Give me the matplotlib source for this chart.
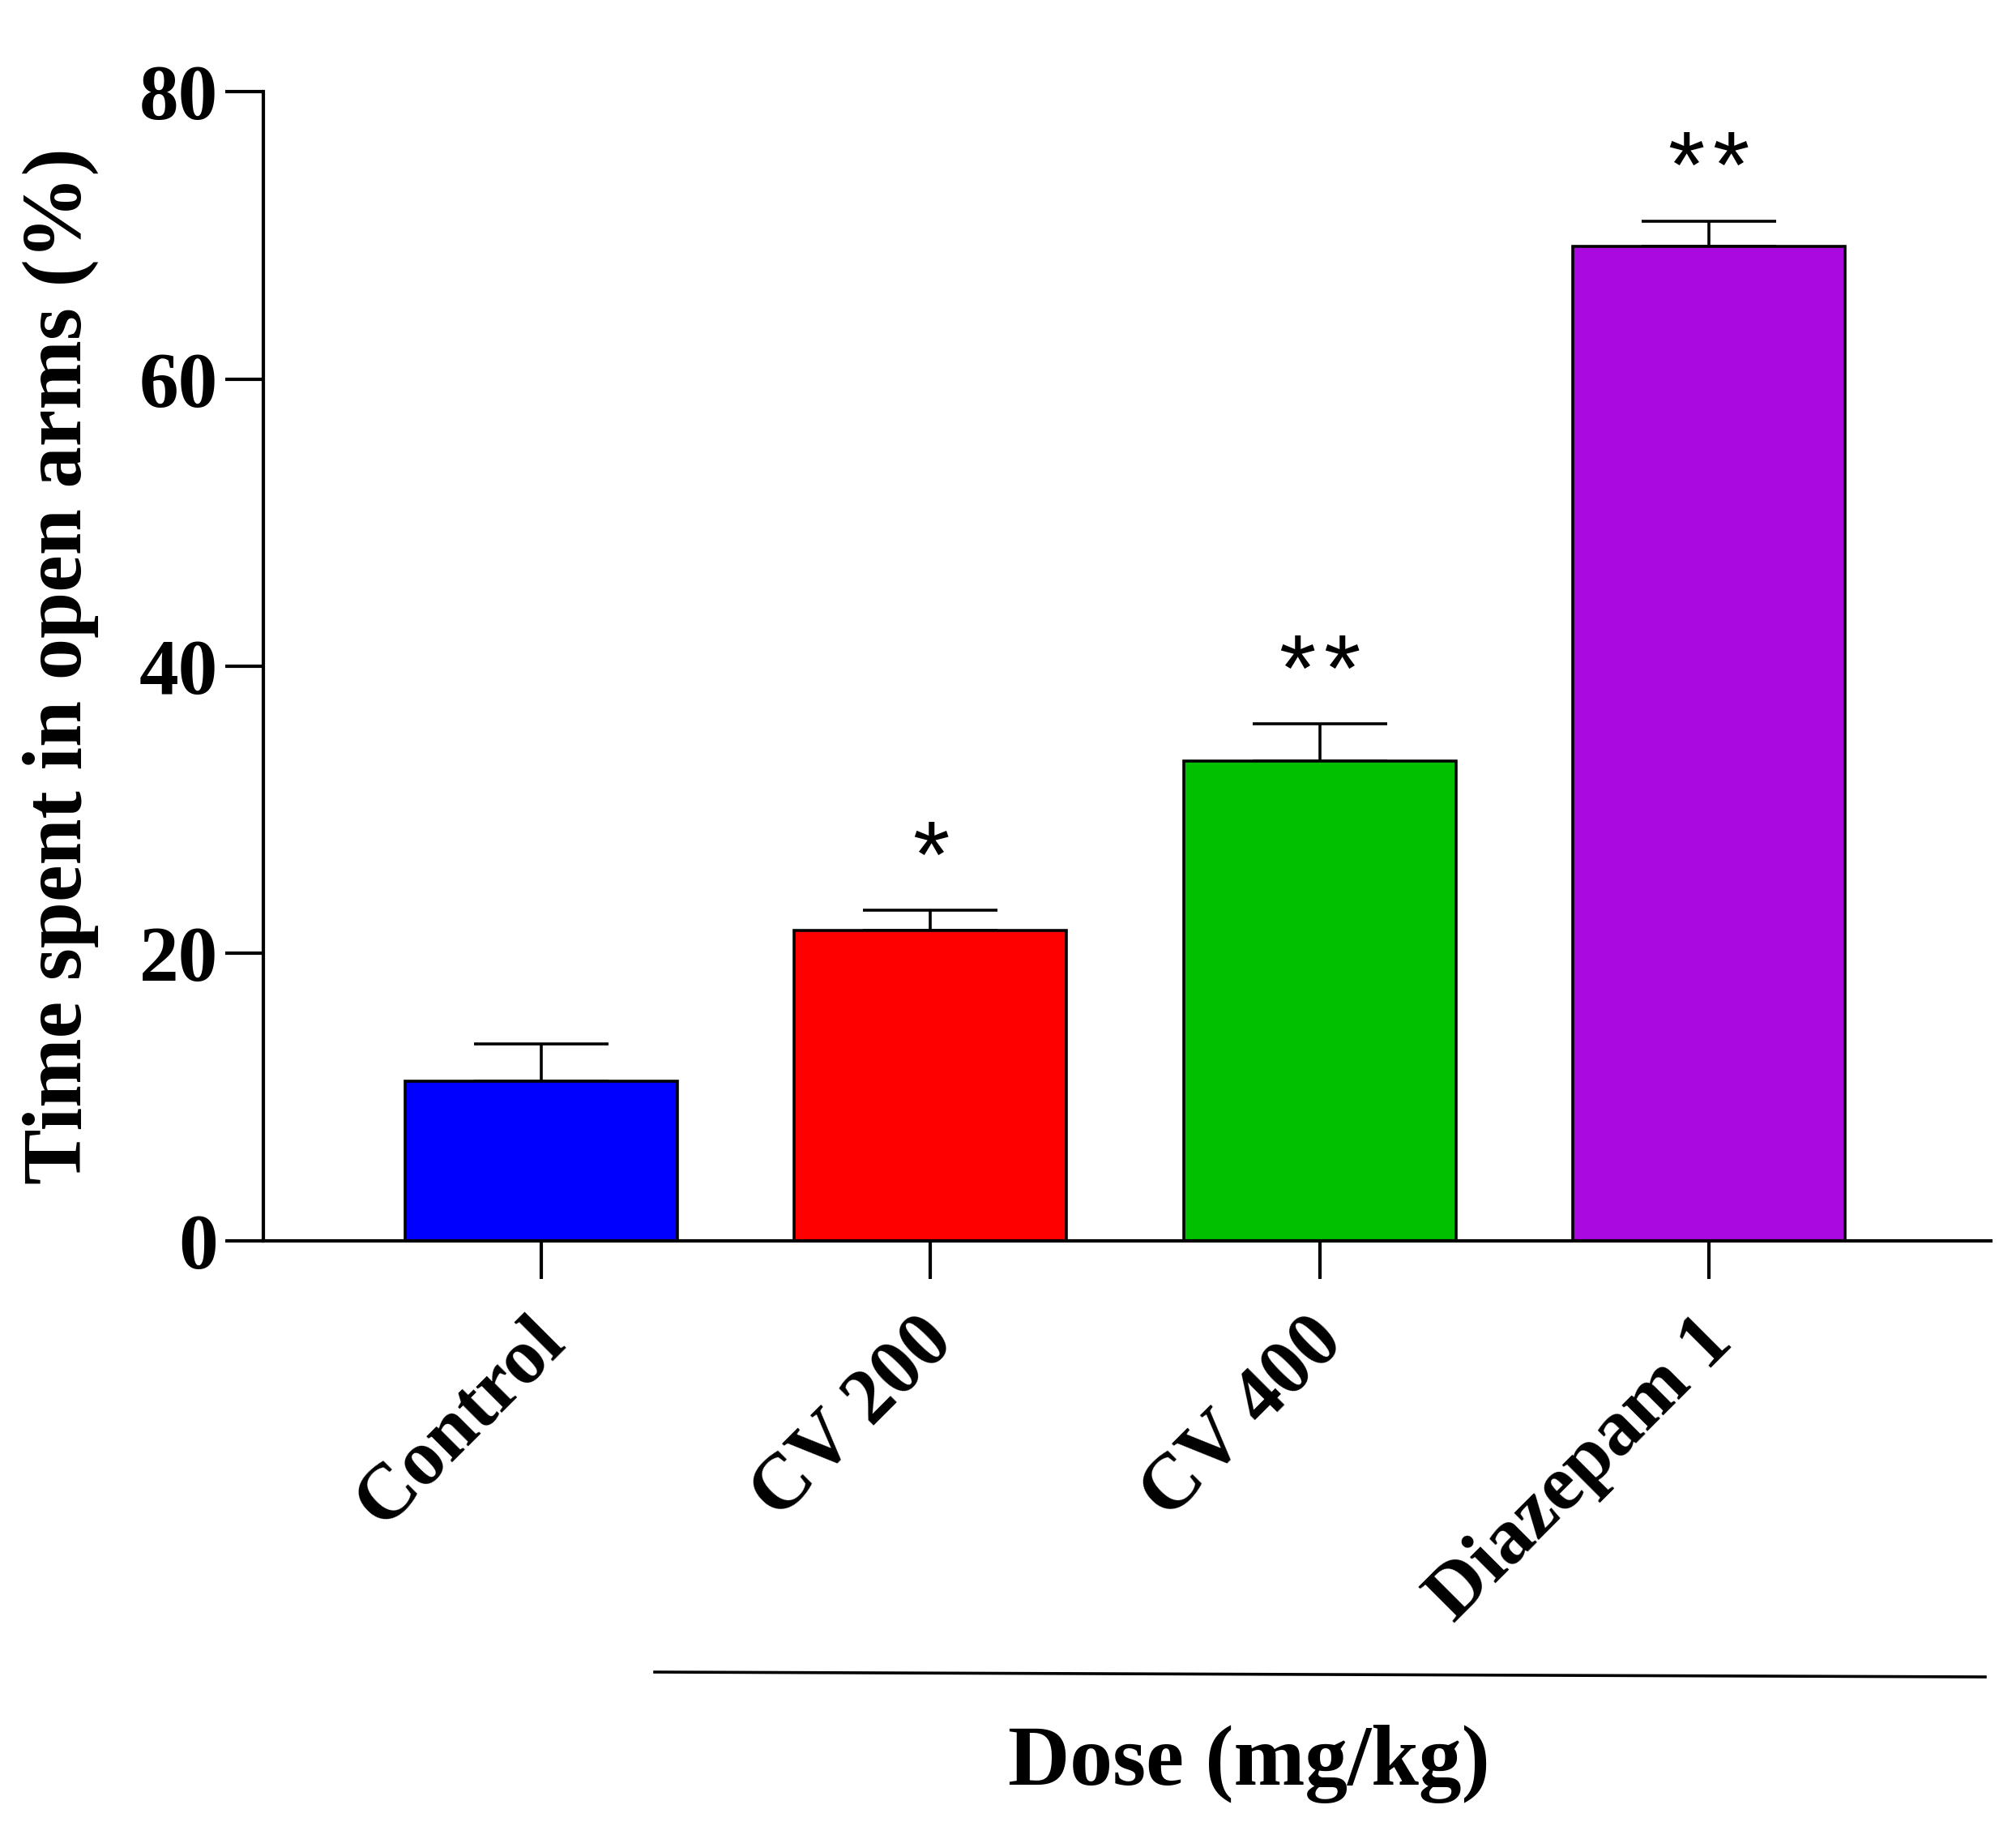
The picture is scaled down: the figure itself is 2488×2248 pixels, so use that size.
import matplotlib
matplotlib.use("Agg")
import matplotlib.pyplot as plt
import matplotlib.transforms as mtransforms
from matplotlib.lines import Line2D

groups = ["Control", "CV 200", "CV 400", "Diazepam 1"]
means = [11.1, 21.6, 33.4, 69.2]
sems = [2.6, 1.4, 2.6, 1.8]
stars = ["", "*", "**", "**"]
colors = ["#0000FF", "#FF0000", "#00C000", "#AA0AE0"]
yticks = [0, 20, 40, 60, 80]

serif = ["Liberation Serif", "DejaVu Serif"]

fig = plt.figure(figsize=(24.88, 22.48), dpi=100)
ax = fig.add_axes([0.1306, 0.319, 0.8569, 0.6307])

x = list(range(len(groups)))
ax.bar(x, means, width=0.70, color=colors, edgecolor="black", linewidth=2.6, zorder=2)
ax.errorbar(x, means, yerr=[[0] * len(sems), sems], fmt="none", ecolor="black",
            elinewidth=2.6, capsize=60, capthick=2.6, zorder=1)

# significance marks, one asterisk at a time so they sit a little apart
star_step = 0.55  # inches between asterisk centres
for xi, m, s, st in zip(x, means, sems, stars):
    n = len(st)
    for k in range(n):
        dx = (k - (n - 1) / 2) * star_step
        tr = ax.transData + mtransforms.ScaledTranslation(dx, 0, fig.dpi_scale_trans)
        ax.text(xi, m + s + 1.6, "*", ha="center", va="baseline", transform=tr,
                fontsize=84, family=["Liberation Sans", "DejaVu Sans"])

ax.set_xlim(-0.715, 3.725)
ax.set_ylim(0, 80)
ax.spines["top"].set_visible(False)
ax.spines["right"].set_visible(False)
ax.spines["left"].set_linewidth(3)
ax.spines["bottom"].set_linewidth(3)

ax.set_yticks(yticks)
ax.set_yticklabels([str(v) for v in yticks], fontsize=70, fontweight="bold", family=serif)
ax.tick_params(axis="y", length=34, width=3, pad=6)
ax.set_xticks(x)
ax.set_xticklabels(groups, fontsize=70, fontweight="bold", family=serif,
                   rotation=45, ha="right", va="center", rotation_mode="anchor")
ax.tick_params(axis="x", length=34, width=3, pad=46)
offset = mtransforms.ScaledTranslation(0.15, 0, fig.dpi_scale_trans)
for lbl in ax.get_xticklabels():
    lbl.set_transform(lbl.get_transform() + offset)

ax.set_ylabel("Time spent in open arms (%)", fontsize=74, fontweight="bold",
              family=serif, labelpad=36)

# line over the treated groups and the dose caption
fig.add_artist(Line2D([808 / 2488, 2450 / 2488], [1 - 2063 / 2248, 1 - 2069 / 2248],
                      color="black", linewidth=2.6))
fig.text(1541 / 2488, 1 - 2202 / 2248, "Dose (mg/kg)", ha="center", va="baseline",
         fontsize=76, fontweight="bold", family=serif)

fig.savefig("out.png", dpi=100)
